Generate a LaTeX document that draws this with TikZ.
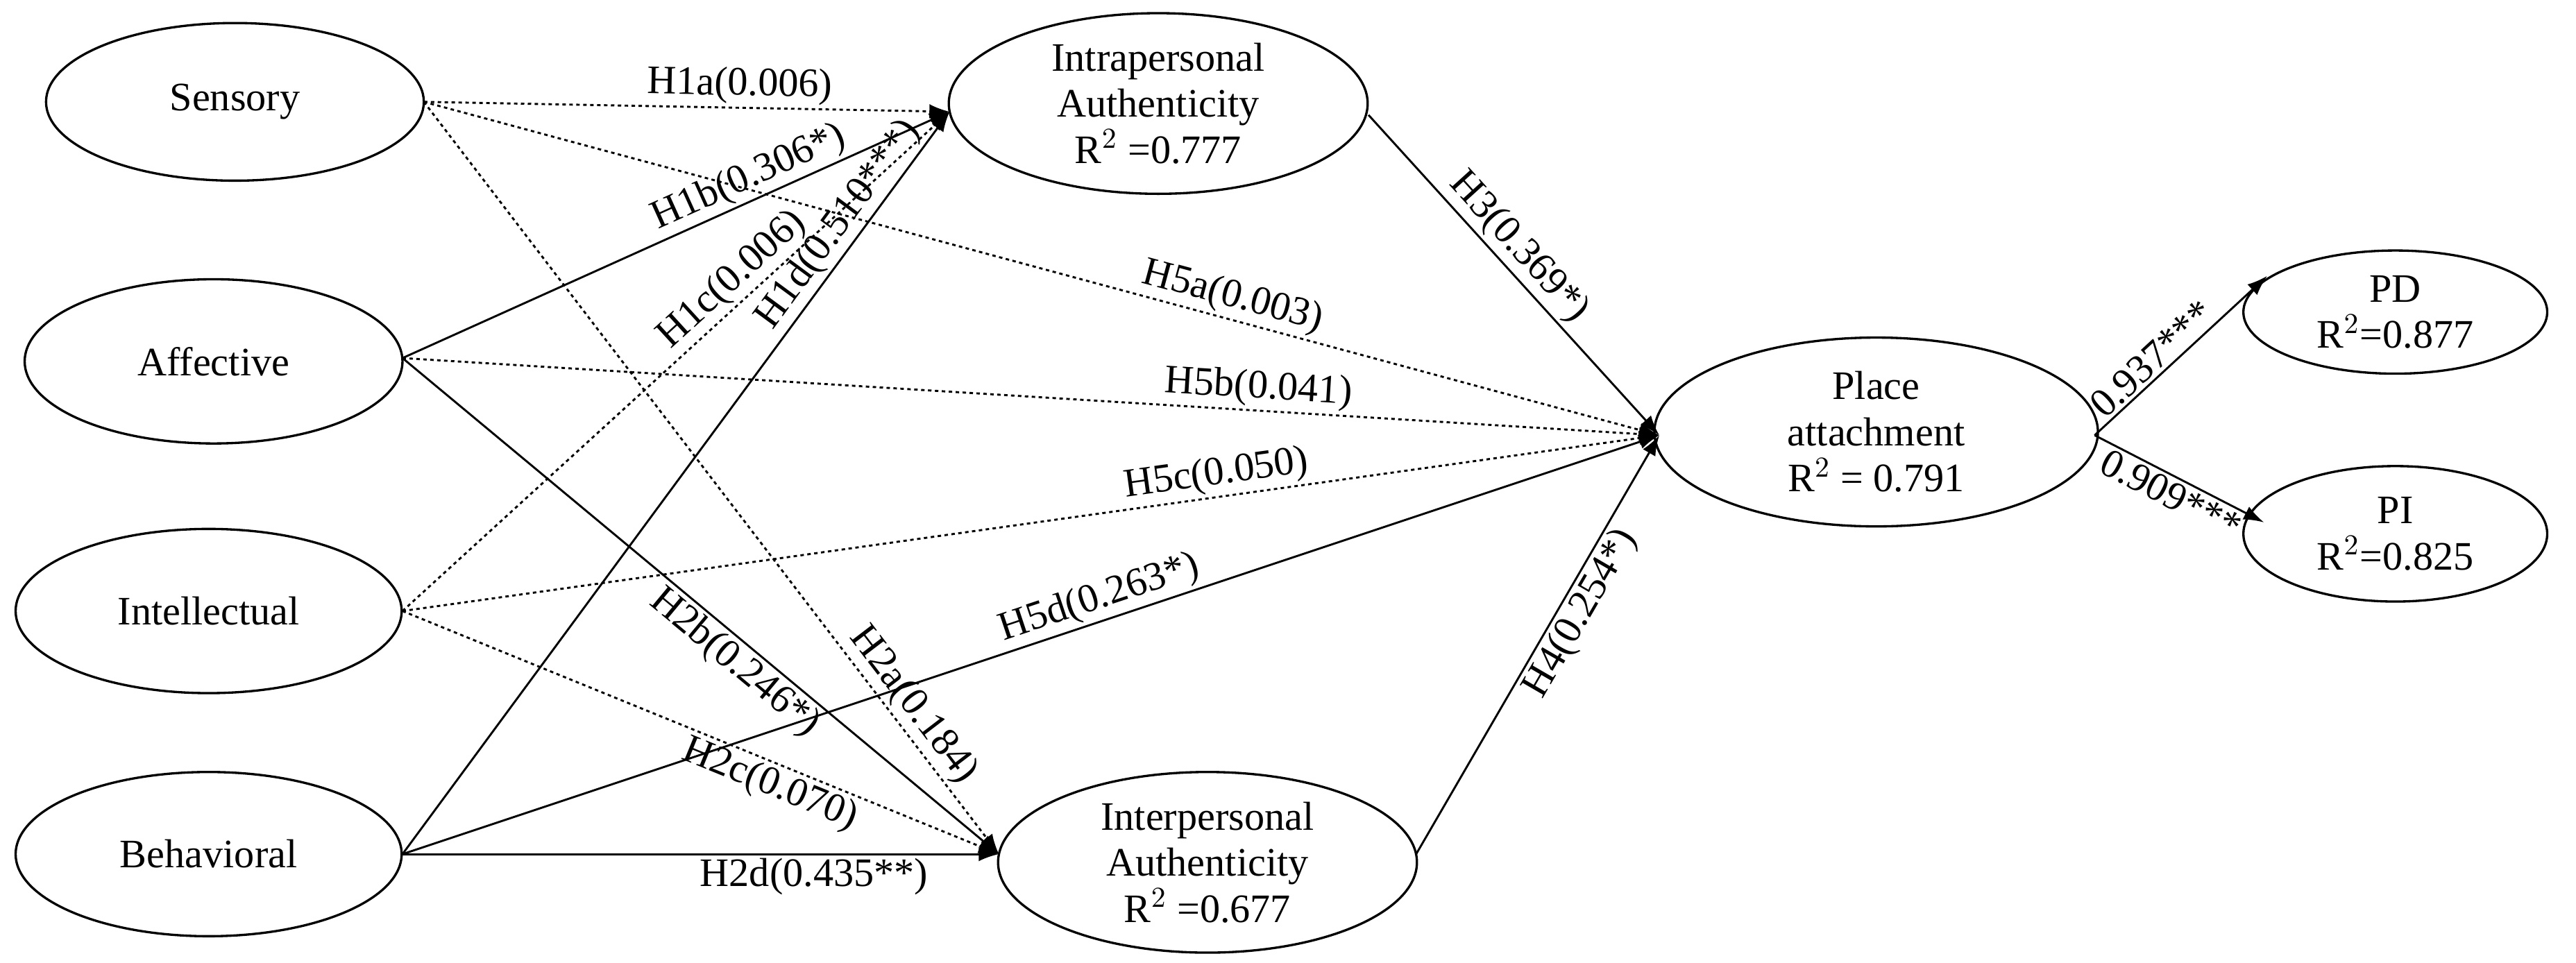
\documentclass[tikz,border=0pt]{standalone}
\usepackage{fontspec}
\setmainfont{Liberation Serif}
\usetikzlibrary{arrows.meta,shapes.geometric}
\begin{document}
\begin{tikzpicture}[x=0.02cm,y=-0.02cm,
 el/.style={draw,ellipse,line width=0.8pt,align=center,inner sep=0pt,font=\fontsize{14}{16}\selectfont},
 lb/.style={font=\fontsize{14}{16}\selectfont,sloped,inner sep=1pt},
 ar/.style={line width=0.7pt,-{Latex[length=7pt,width=5pt]}},
 dt/.style={ar,dash pattern=on 1.2pt off 1.2pt}]
\useasboundingbox (0,0) rectangle (1568,586);
\node[el,minimum width=4.6cm,minimum height=1.92cm] (s) at (143,62) {Sensory};
\node[el,minimum width=4.6cm,minimum height=2.0cm] (a) at (130,220) {Affective};
\node[el,minimum width=4.7cm,minimum height=2.0cm] (i) at (127,372) {Intellectual};
\node[el,minimum width=4.7cm,minimum height=2.0cm] (b) at (127,520) {Behavioral};
\node[el,minimum width=5.1cm,minimum height=2.2cm] (ra) at (705,63) {Intrapersonal\\Authenticity\\R$^2$ =0.777};
\node[el,minimum width=5.1cm,minimum height=2.2cm] (ea) at (735,525) {Interpersonal\\Authenticity\\R$^2$ =0.677};
\node[el,minimum width=5.4cm,minimum height=2.3cm] (pa) at (1142,263) {Place\\attachment\\R$^2$ = 0.791};
\node[el,minimum width=3.7cm,minimum height=1.5cm] (pd) at (1458,190) {PD\\R$^2$=0.877};
\node[el,minimum width=3.7cm,minimum height=1.65cm] (pi) at (1458,325) {PI\\R$^2$=0.825};
\coordinate (s1) at (258,62);
\coordinate (a1) at (245,218);
\coordinate (i1) at (245,372);
\coordinate (b1) at (245,520);
\coordinate (ra0) at (578,68);
\coordinate (ra1) at (833,70);
\coordinate (ea0) at (608,520);
\coordinate (ea1) at (862,520);
\coordinate (pa0) at (1010,265);
\coordinate (pa1) at (1275,265);
\coordinate (pd0) at (1380,168);
\coordinate (pi0) at (1378,318);
\draw[dt] (s1) -- node[lb,pos=0.6,above]{H1a(0.006)} (ra0);
\draw[ar] (a1) -- node[lb,pos=0.65,above]{H1b(0.306*)} (ra0);
\draw[dt] (i1) -- node[lb,pos=0.63,above]{H1c(0.006)} (ra0);
\draw[ar] (b1) -- node[lb,pos=0.83,above]{H1d(0.510***)} (ra0);
\draw[dt] (s1) -- node[lb,pos=0.65,above]{H5a(0.003)} (pa0);
\draw[dt] (a1) -- node[lb,pos=0.68,above]{H5b(0.041)} (pa0);
\draw[dt] (i1) -- node[lb,pos=0.65,above]{H5c(0.050)} (pa0);
\draw[ar] (b1) -- node[lb,pos=0.56,above]{H5d(0.263*)} (pa0);
\draw[dt] (s1) -- node[lb,pos=0.82,above]{H2a(0.184)} (ea0);
\draw[ar] (a1) -- node[lb,pos=0.58,below]{H2b(0.246*)} (ea0);
\draw[dt] (i1) -- node[lb,pos=0.63,below]{H2c(0.070)} (ea0);
\draw[ar] (b1) -- node[lb,pos=0.69,below]{H2d(0.435**)} (ea0);
\draw[ar] (ra1) -- node[lb,pos=0.46,above]{H3(0.369*)} (pa0);
\draw[ar] (ea1) -- node[lb,pos=0.6,below]{H4(0.254*)} (pa0);
\draw[ar] (pa1) -- node[lb,pos=0.4,above]{0.937***} (pd0);
\draw[ar] (pa1) -- node[lb,pos=0.5,below]{0.909***} (pi0);
\end{tikzpicture}
\end{document}
